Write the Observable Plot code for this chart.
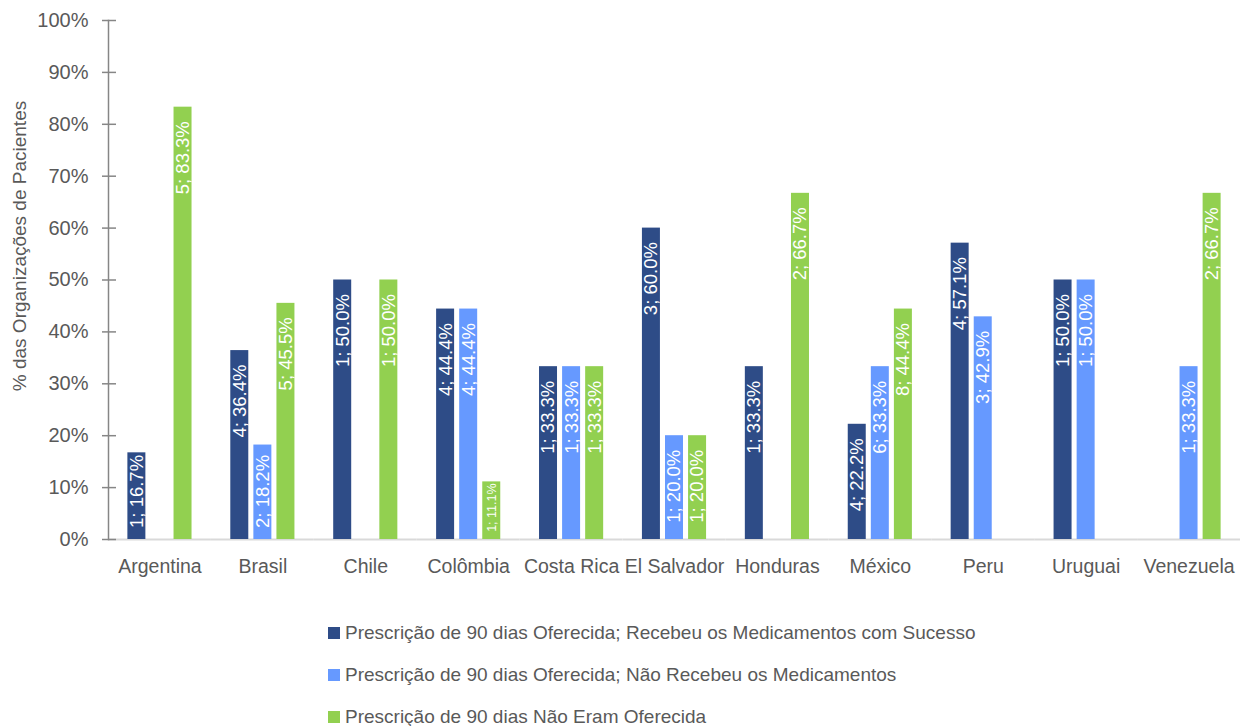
<!DOCTYPE html>
<html><head><meta charset="utf-8">
<script src="https://cdn.jsdelivr.net/npm/d3@7"></script>
<script src="https://cdn.jsdelivr.net/npm/@observablehq/plot@0.6"></script>
<style>
body{margin:0;background:#fff;font-family:"Liberation Sans",Arial,sans-serif;}
#wrap{position:relative;width:1242px;}
#ytitle{position:absolute;left:20px;top:246px;transform:translate(-50%,-50%) rotate(-90deg);white-space:nowrap;font-size:19px;color:#595959;}
#legend{margin-left:328px;padding-top:12px;}
.item{height:42px;display:flex;align-items:center;font-size:19px;color:#595959;}
.sw{width:12px;height:12px;margin-right:5px;}
</style></head><body>
<div id="wrap"><div id="chart"></div><div id="ytitle">% das Organizações de Pacientes</div></div>
<div id="legend"></div>
<script>
const countries = ["Argentina","Brasil","Chile","Colômbia","Costa Rica","El Salvador","Honduras","México","Peru","Uruguai","Venezuela"];
const seriesNames = [
  "Prescrição de 90 dias Oferecida; Recebeu os Medicamentos com Sucesso",
  "Prescrição de 90 dias Oferecida; Não Recebeu os Medicamentos",
  "Prescrição de 90 dias Não Eram Oferecida"
];
const colors = ["#2E4C87","#6699FF","#92D050"];
const succPct = [16.7, 36.4, 50.0, 44.4, 33.3, 60.0, 33.3, 22.2, 57.1, 50.0, null];
const succN   = [1, 4, 1, 4, 1, 3, 1, 4, 4, 1, null];
const notRecPct = [null, 18.2, null, 44.4, 33.3, 20.0, null, 33.3, 42.9, 50.0, 33.3];
const notRecN   = [null, 2, null, 4, 1, 1, null, 6, 3, 1, 1];
const notOffPct = [83.3, 45.5, 50.0, 11.1, 33.3, 20.0, 66.7, 44.4, null, null, 66.7];
const notOffN   = [5, 5, 1, 1, 1, 1, 2, 8, null, null, 2];
const yTicks = [0,10,20,30,40,50,60,70,80,90,100];

const pcts = [succPct, notRecPct, notOffPct];
const ns = [succN, notRecN, notOffN];
const rows = [];
countries.forEach((c, i) => {
  seriesNames.forEach((s, j) => {
    if (pcts[j][i] != null) rows.push({country: c, series: s, pct: pcts[j][i], n: ns[j][i]});
  });
});

const chart = Plot.plot({
  width: 1242, height: 600,
  marginLeft: 108, marginRight: 2, marginTop: 20, marginBottom: 61,
  fx: {domain: countries, padding: 0, round: false, label: null},
  x: {domain: seriesNames, paddingInner: 0.22, paddingOuter: 0.84, round: false, axis: null},
  y: {domain: [0, 100]},
  color: {domain: seriesNames, range: colors},
  style: {fontFamily: "'Liberation Sans', Arial, sans-serif", fontSize: "20px", color: "#595959", background: "white"},
  marks: [
    Plot.ruleY([0], {stroke: "#d9d9d9", strokeWidth: 2}),
    Plot.barY(rows, {fx: "country", x: "series", y: "pct", fill: "series"}),
    Plot.text(rows, {
      fx: "country", x: "series",
      y: d => d.pct < 15 ? d.pct + 2.4 : Math.max(d.pct, 19),
      text: d => `${d.n}; ${d.pct.toFixed(1)}%`,
      rotate: -90, textAnchor: "end", dy: 14, fill: "white",
      fontSize: d => d.pct < 15 ? 12.5 : 18.5
    }),
    Plot.axisY({ticks: yTicks, tickFormat: d => d + "%", tickSize: 0, tickPadding: 20, fontSize: 20, label: null}),
    Plot.axisY({ticks: yTicks, tickFormat: () => "", tickSize: 14, dx: 8, stroke: "#868686", strokeWidth: 1.5, label: null}),
    Plot.frame({anchor: "left", facetAnchor: "left", stroke: "#868686", strokeWidth: 1.5}),
    Plot.axisFx({anchor: "bottom", tickSize: 0, tickPadding: 20, fontSize: 19.5, label: null})
  ]
});
document.getElementById("chart").append(chart);

const legend = document.getElementById("legend");
seriesNames.forEach((s, j) => {
  const it = document.createElement("div");
  it.className = "item";
  const sw = document.createElement("span");
  sw.className = "sw"; sw.style.background = colors[j];
  const tx = document.createElement("span");
  tx.textContent = s;
  it.append(sw, tx);
  legend.append(it);
});
</script>
</body></html>
